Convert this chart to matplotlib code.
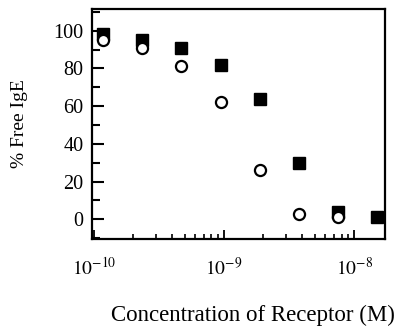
import matplotlib.pyplot as plt
import numpy as np

plt.rcParams["font.family"] = ["Liberation Serif", "DejaVu Serif"]
plt.rcParams["mathtext.fontset"] = "stix"

conc_squares = [1.17e-10, 2.34e-10, 4.69e-10, 9.4e-10, 1.88e-9, 3.75e-9, 7.5e-9, 1.5e-8]
free_squares = [98, 95, 91, 82, 64, 30, 4, 1]

conc_circles = [1.17e-10, 2.34e-10, 4.69e-10, 9.4e-10, 1.88e-9, 3.75e-9, 7.5e-9]
free_circles = [95, 91, 81, 62, 26, 3, 1]

y_ticks = [0, 20, 40, 60, 80, 100]
x_ticks = [1e-10, 1e-9, 1e-8]
x_tick_labels = ["$10^{-10}$", "$10^{-9}$", "$10^{-8}$"]

fig = plt.figure(figsize=(3.97, 3.28), dpi=100)
ax = fig.add_axes([0.2317, 0.2713, 0.7383, 0.7013])

ax.plot(conc_squares, free_squares, linestyle="none", marker="s", markersize=8.5,
        color="black", zorder=3)
ax.plot(conc_circles, free_circles, linestyle="none", marker="o", markersize=8,
        markerfacecolor="white", markeredgecolor="black", markeredgewidth=1.6, zorder=4)

ax.set_xscale("log")
ax.set_xlim(0.965e-10, 1.73e-8)
ax.set_ylim(-10.5, 111.5)

ax.set_yticks(y_ticks)
ax.set_yticks(np.arange(-10, 111, 10), minor=True)
ax.set_xticks(x_ticks)
ax.set_xticklabels(x_tick_labels)

ax.tick_params(axis="y", which="major", direction="in", length=8.5, width=1.5, pad=6, labelsize=14.5)
ax.tick_params(axis="y", which="minor", direction="in", length=5.5, width=1.5)
ax.tick_params(axis="x", which="major", direction="in", length=6.5, width=1.3, pad=13, labelsize=14)
ax.tick_params(axis="x", which="minor", direction="in", length=3.5, width=1.2, labelbottom=False)
ax.tick_params(top=False, right=False, which="both")

for spine in ax.spines.values():
    spine.set_linewidth(1.6)

ax.set_ylabel("% Free IgE", fontsize=14)
ax.yaxis.set_label_coords(-0.22, 0.5)
ax.set_xlabel("Concentration of Receptor (M)", fontsize=16.5)
ax.xaxis.set_label_coords(0.548, -0.285)

fig.savefig("out.png", dpi=100)
